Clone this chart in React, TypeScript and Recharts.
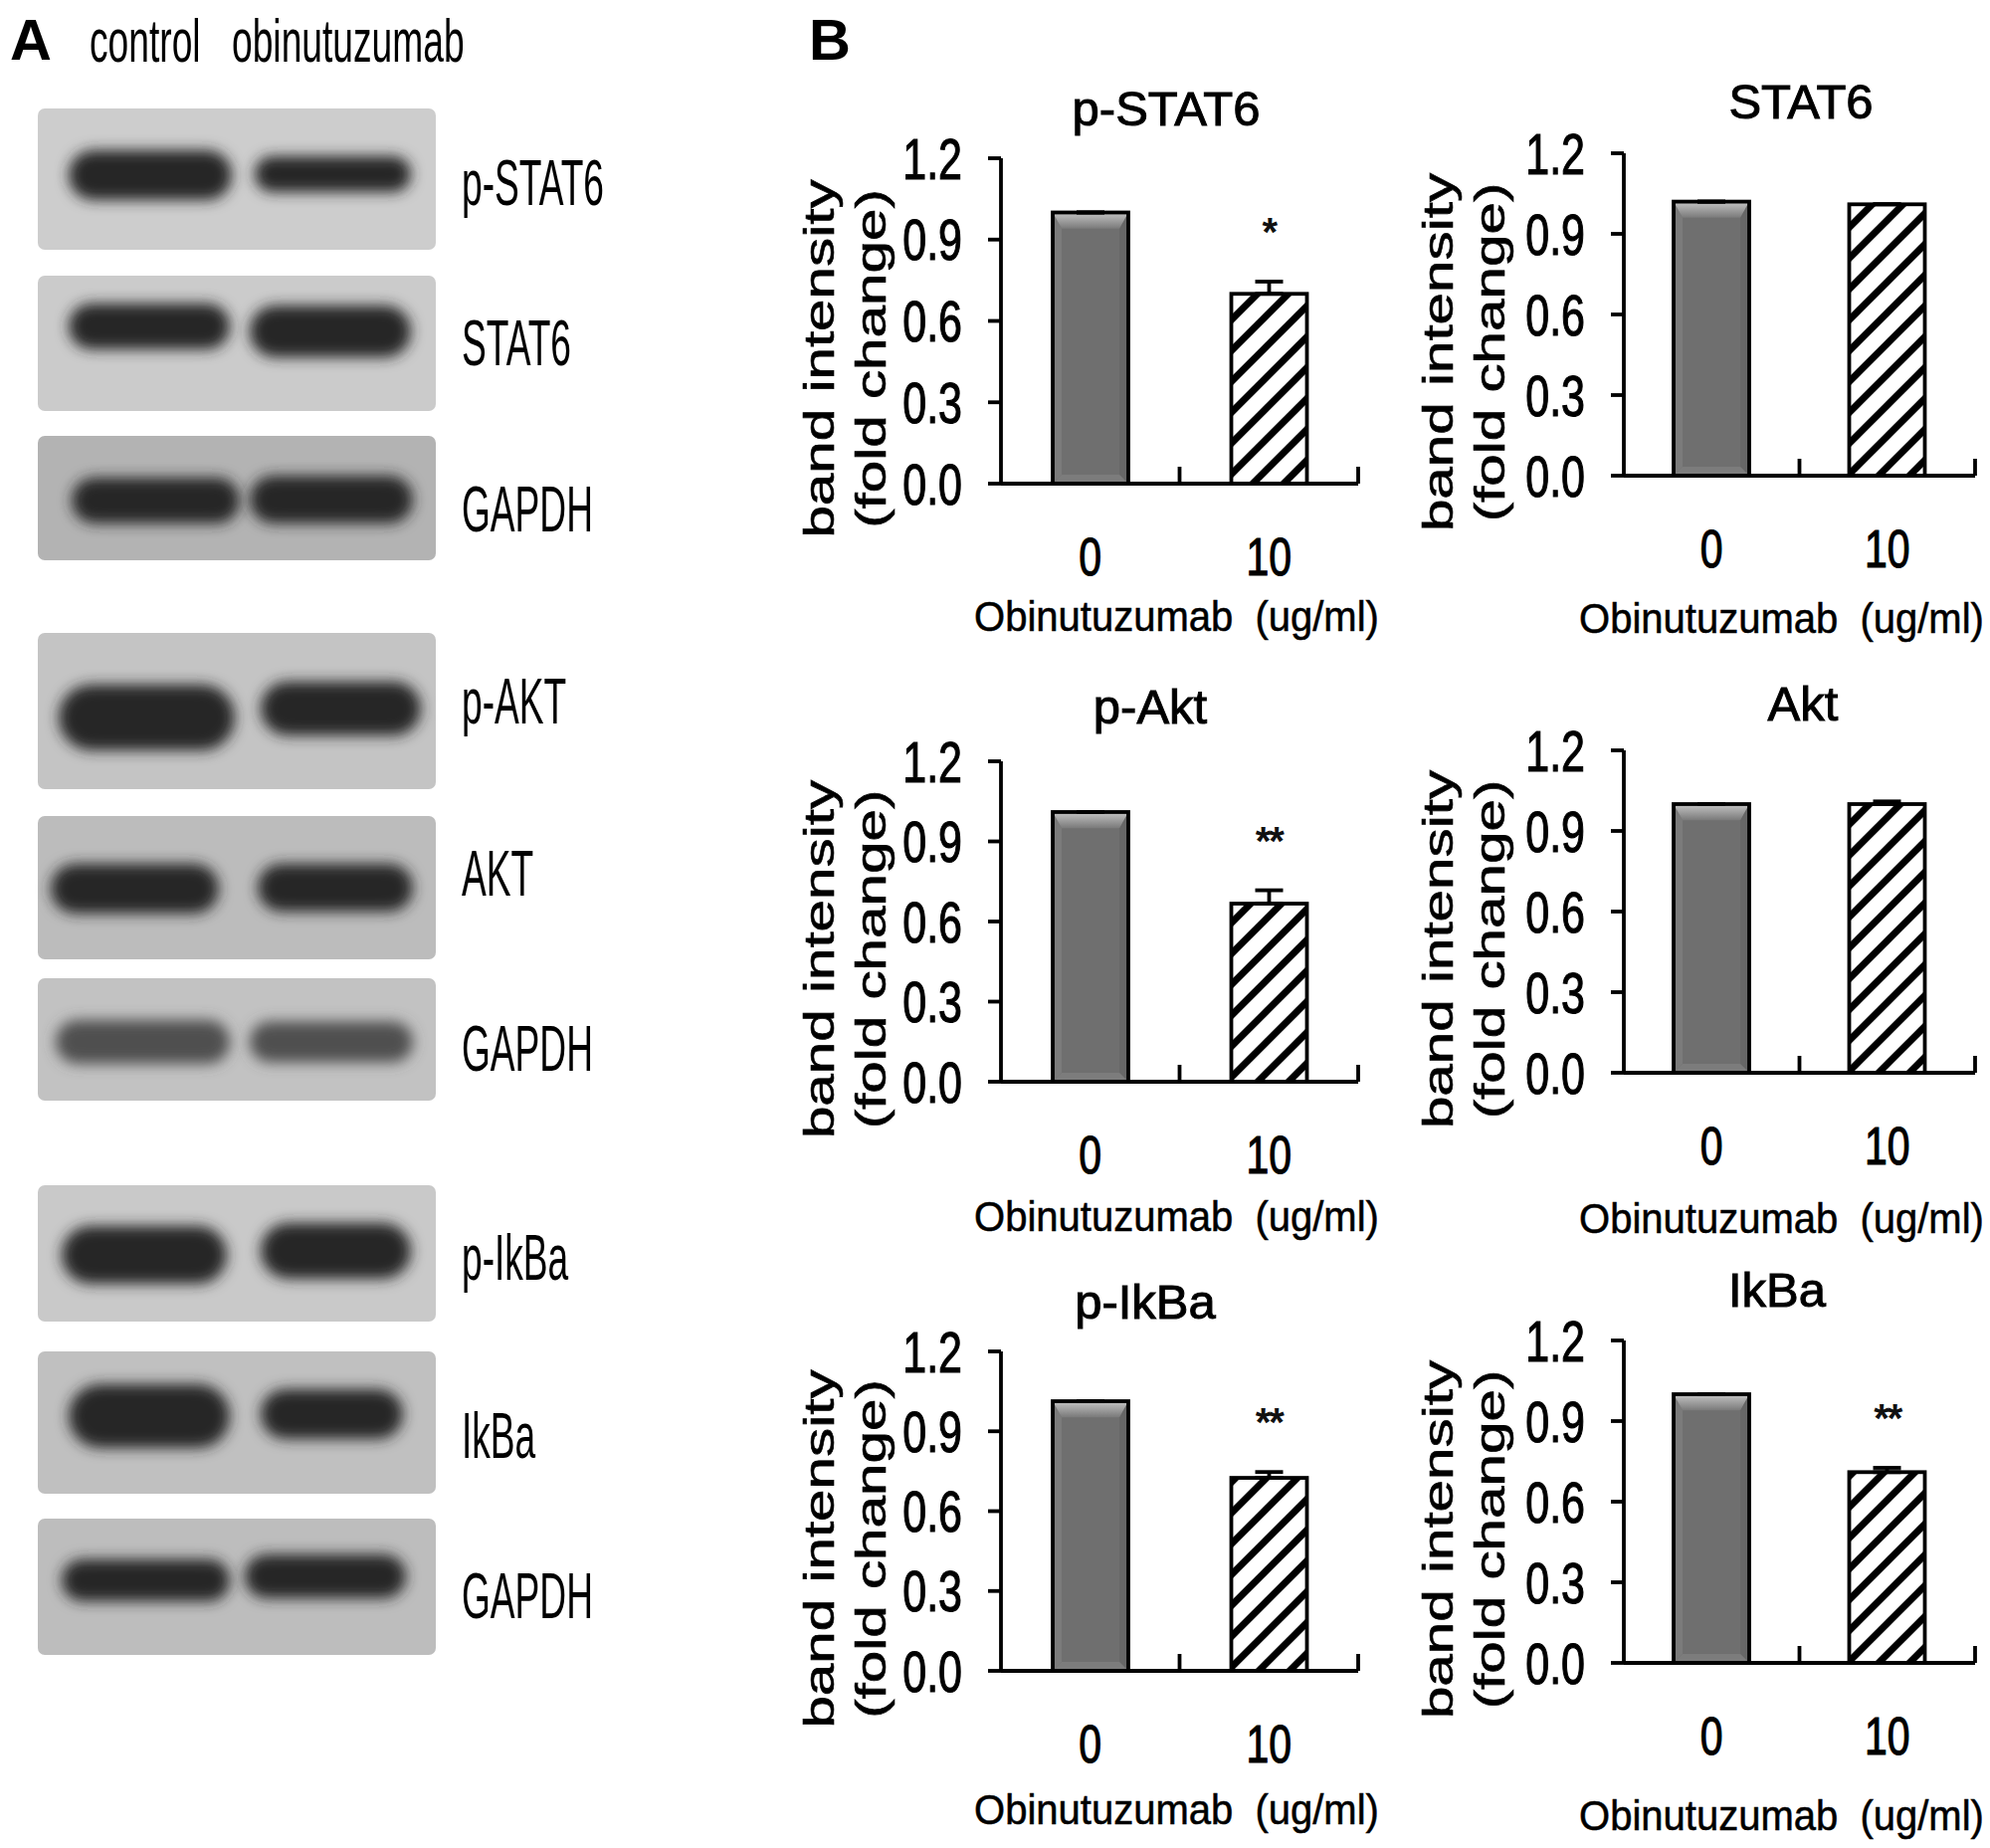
import { Bar, ComposedChart, ErrorBar, LabelList, Line, XAxis, YAxis } from "recharts"

// ---- data ----
const doses = ["0", "10"]
const panelTitles = ["p-STAT6", "STAT6", "p-Akt", "Akt", "p-IkBa", "IkBa"]
const meanValues = [
  [1.0, 0.7],
  [1.02, 1.01],
  [1.01, 0.667],
  [1.0, 1.0],
  [1.013, 0.725],
  [1.0, 0.71],
]
const upperErrors = [
  [0, 0.045],
  [0, 0],
  [0, 0.05],
  [0, 0.01],
  [0, 0.022],
  [0, 0.016],
]
const sigMarks = [
  ["", "*"],
  ["", ""],
  ["", "**"],
  ["", ""],
  ["", "**"],
  ["", "**"],
]
const yTicks = [0, 0.3, 0.6, 0.9, 1.2]
const blotLabels = ["p-STAT6", "STAT6", "GAPDH", "p-AKT", "AKT", "GAPDH", "p-IkBa", "IkBa", "GAPDH"]
const laneNames = ["control", "obinutuzumab"]

// ---- layout (page pixels) ----
const FONT = "Arial, 'Liberation Sans', Helvetica, sans-serif"
const panelBoxes = [
  { axisX: 1006, xEnd: 1365, yTop: 159, yBottom: 486, tx: 1172, ty: 126, unitDx: -3, unitDy: 148, labDx: -168 },
  { axisX: 1632, xEnd: 1985, yTop: 154, yBottom: 478, tx: 1810, ty: 119, unitDx: -18, unitDy: 158, labDx: -172 },
  { axisX: 1006, xEnd: 1365, yTop: 765, yBottom: 1087, tx: 1156, ty: 727, unitDx: -3, unitDy: 150, labDx: -168 },
  { axisX: 1632, xEnd: 1985, yTop: 754, yBottom: 1078, tx: 1812, ty: 724, unitDx: -18, unitDy: 161, labDx: -172 },
  { axisX: 1006, xEnd: 1365, yTop: 1358, yBottom: 1679, tx: 1151, ty: 1325, unitDx: -3, unitDy: 154, labDx: -168 },
  { axisX: 1632, xEnd: 1985, yTop: 1347, yBottom: 1671, tx: 1786, ty: 1313, unitDx: -18, unitDy: 168, labDx: -172 },
]

const blotBoxes = [
  { y0: 109, y1: 251, bg: "#cdcdcd", ly: 206, bands: [[69, 233, 176, 50], [256, 413, 175, 36]] },
  { y0: 277, y1: 413, bg: "#cbcbcb", ly: 367, bands: [[69, 231, 328, 46], [251, 413, 333, 52]] },
  { y0: 438, y1: 563, bg: "#b3b3b3", ly: 534, bands: [[72, 241, 503, 46], [251, 415, 502, 48]] },
  { y0: 636, y1: 793, bg: "#c4c4c4", ly: 727, bands: [[59, 236, 721, 66], [262, 423, 712, 54]] },
  { y0: 820, y1: 964, bg: "#bcbcbc", ly: 900, bands: [[51, 220, 893, 50], [259, 415, 892, 48]] },
  { y0: 983, y1: 1106, bg: "#c2c2c2", ly: 1076, bands: [[56, 231, 1047, 44], [251, 415, 1047, 41]], band: "#505050" },
  { y0: 1191, y1: 1328, bg: "#c9c9c9", ly: 1286, bands: [[62, 228, 1261, 58], [262, 413, 1257, 56]] },
  { y0: 1358, y1: 1501, bg: "#c0c0c0", ly: 1465, bands: [[69, 231, 1423, 64], [262, 405, 1421, 50]] },
  { y0: 1526, y1: 1663, bg: "#bdbdbd", ly: 1626, bands: [[62, 231, 1588, 42], [246, 408, 1584, 44]] },
]

const PAD_L = 230
const PAD_T = 120
const PAD_R = 25
const PAD_B = 200
const AXIS = 3.8

const SolidBar = (p: any) => {
  const { x, y, width: w, height: h, gid } = p
  const b = Math.min(9, h / 4)
  return (
    <g>
      <defs>
        <linearGradient id={gid} x1="0" y1="0" x2="0" y2="1">
          <stop offset="0" stopColor="#c4c4c4" />
          <stop offset="1" stopColor="#7a7a7a" />
        </linearGradient>
      </defs>
      <rect x={x} y={y} width={w} height={h} fill="#6f6f6f" />
      <polygon points={`${x},${y} ${x + b},${y + b * 1.8} ${x + b},${y + h - b} ${x},${y + h}`} fill="#7b7b7b" />
      <polygon points={`${x + w},${y} ${x + w - b},${y + b * 1.8} ${x + w - b},${y + h - b} ${x + w},${y + h}`} fill="#676767" />
      <polygon points={`${x},${y + h} ${x + b},${y + h - b} ${x + w - b},${y + h - b} ${x + w},${y + h}`} fill="#7c7c7c" />
      <polygon points={`${x},${y} ${x + w},${y} ${x + w - b},${y + b * 1.8} ${x + b},${y + b * 1.8}`} fill={`url(#${gid})`} />
      <rect x={x} y={y} width={w} height={h} fill="none" stroke="#000" strokeWidth={AXIS} />
    </g>
  )
}

const HatchBar = (p: any) => {
  const { x, y, width: w, height: h, gid } = p
  return (
    <g>
      <defs>
        <pattern id={gid} patternUnits="userSpaceOnUse" width={31} height={31}>
          <rect width={31} height={31} fill="#fff" />
          <path d="M-8,8 L8,-8 M0,31 L31,0 M23,39 L39,23" stroke="#000" strokeWidth={7} />
        </pattern>
      </defs>
      <rect x={x} y={y} width={w} height={h} fill={`url(#${gid})`} stroke="#000" strokeWidth={AXIS} />
    </g>
  )
}

const YTick = (p: any) => {
  const { x, y, payload } = p
  return (
    <g transform={`translate(${x},${y}) scale(1,1.33)`}>
      <text x={0} y={15.5} textAnchor="end" fontSize={43} fontFamily={FONT} fill="#000" stroke="#000" strokeWidth={0.9}>
        {Number(payload.value).toFixed(1)}
      </text>
    </g>
  )
}

const DoseTick = (p: any) => {
  const { x, payload, axisY, band } = p
  return (
    <g>
      <line x1={x + band / 2} x2={x + band / 2} y1={axisY} y2={axisY - 17} stroke="#000" strokeWidth={AXIS} />
      <g transform={`translate(${x},${axisY + 92}) scale(1,1.32)`}>
        <text x={0} y={0} textAnchor="middle" fontSize={41} fontFamily={FONT} fill="#000" stroke="#000" strokeWidth={0.9}>
          {payload.value}
        </text>
      </g>
    </g>
  )
}

const SigLabel = (p: any) => {
  const { x, y, value } = p
  if (!value) return null
  return (
    <text x={x} y={y - 36} textAnchor="middle" fontSize={40} fontWeight="bold" fontFamily={FONT} fill="#111" letterSpacing={-2}>
      {value}
    </text>
  )
}

const Panel = ({ i }: { i: number }) => {
  const g = panelBoxes[i]
  const left = g.axisX - PAD_L
  const top = g.yTop - PAD_T
  const width = g.xEnd - left + PAD_R
  const height = g.yBottom - top + PAD_B
  const axisY = g.yBottom - top
  const band = (g.xEnd - g.axisX) / doses.length
  const data = doses.map((d, k) => ({
    dose: d,
    mean: meanValues[i][k],
    err: [0, upperErrors[i][k]],
    top: meanValues[i][k] + upperErrors[i][k],
    sig: sigMarks[i][k],
  }))

  return (
    <div style={{ position: "absolute", left, top, width, height }}>
      <ComposedChart width={width} height={height} data={data} margin={{ top: PAD_T, right: PAD_R, bottom: 0, left: 0 }}>
        <XAxis
          dataKey="dose"
          height={PAD_B}
          interval={0}
          axisLine={{ stroke: "#000", strokeWidth: AXIS }}
          tickLine={false}
          tick={(t: any) => <DoseTick {...t} axisY={axisY} band={band} />}
        />
        <YAxis
          domain={[0, 1.2]}
          ticks={yTicks}
          interval={0}
          width={PAD_L}
          allowDataOverflow
          axisLine={{ stroke: "#000", strokeWidth: AXIS }}
          tickLine={{ stroke: "#000", strokeWidth: AXIS }}
          tickSize={13}
          tickMargin={26}
          tick={<YTick />}
        />
        <Bar
          dataKey="mean"
          barSize={76}
          isAnimationActive={false}
          shape={(s: any) =>
            s.index === 0 ? <SolidBar {...s} gid={`bev-${i}`} /> : <HatchBar {...s} gid={`hatch-${i}`} />
          }
        >
          <ErrorBar dataKey="err" direction="y" width={14} stroke="#000" strokeWidth={AXIS} />
        </Bar>
        <Line dataKey="top" stroke="none" dot={false} activeDot={false} isAnimationActive={false}>
          <LabelList dataKey="sig" content={<SigLabel />} />
        </Line>
      </ComposedChart>
    </div>
  )
}

const Backdrop = () => (
  <svg width={2000} height={1857} style={{ position: "absolute", left: 0, top: 0 }} fontFamily={FONT}>
    <defs>
      <filter id="blotBlur" x="-20%" y="-60%" width="140%" height="220%">
        <feGaussianBlur stdDeviation={7} />
      </filter>
    </defs>
    <text x={10} y={60} fontSize={58} fontWeight="bold">A</text>
    <text x={813} y={60} fontSize={58} fontWeight="bold">B</text>
    <text transform="translate(90 62) scale(0.6 1)" fontSize={62}>{laneNames[0]}</text>
    <text transform="translate(233 62) scale(0.6 1)" fontSize={62}>{laneNames[1]}</text>

    {blotBoxes.map((b, k) => (
      <g key={k}>
        <rect x={38} y={b.y0} width={400} height={b.y1 - b.y0} rx={7} fill={b.bg} />
        {b.bands.map(([x0, x1, cy, h], j) => (
          <rect
            key={j}
            x={x0}
            y={cy - h / 2}
            width={x1 - x0}
            height={h}
            rx={h / 2}
            fill={b.band || "#262626"}
            filter="url(#blotBlur)"
          />
        ))}
        <text transform={`translate(464 ${b.ly}) scale(0.58 1)`} fontSize={64}>{blotLabels[k]}</text>
      </g>
    ))}

    {panelBoxes.map((g, i) => {
      const cy = (g.yTop + g.yBottom) / 2 + 38
      return (
        <g key={i}>
          <text x={g.tx} y={g.ty} textAnchor="middle" fontSize={49} stroke="#000" strokeWidth={1}>
            {panelTitles[i]}
          </text>
          <text
            transform={`translate(${g.axisX + g.labDx} ${cy}) rotate(-90) scale(1.39 1)`}
            textAnchor="middle"
            fontSize={42}
            stroke="#000"
            strokeWidth={0.6}
          >
            band intensity
          </text>
          <text
            transform={`translate(${g.axisX + g.labDx + 52} ${cy}) rotate(-90) scale(1.39 1)`}
            textAnchor="middle"
            fontSize={42}
            stroke="#000"
            strokeWidth={0.6}
          >
            (fold change)
          </text>
          <g transform={`translate(${(g.axisX + g.xEnd) / 2 + g.unitDx} ${g.yBottom + g.unitDy}) scale(1 1.08)`}>
            <text x={0} y={0} textAnchor="middle" fontSize={40} stroke="#000" strokeWidth={0.5} style={{ whiteSpace: "pre" }}>
              {"Obinutuzumab  (ug/ml)"}
            </text>
          </g>
        </g>
      )
    })}
  </svg>
)

export default function App() {
  return (
    <div style={{ position: "absolute", left: 0, top: 0, width: 2000, height: 1857, background: "#fff", fontFamily: FONT }}>
      <Backdrop />
      {panelTitles.map((_, i) => (
        <Panel key={i} i={i} />
      ))}
    </div>
  )
}
